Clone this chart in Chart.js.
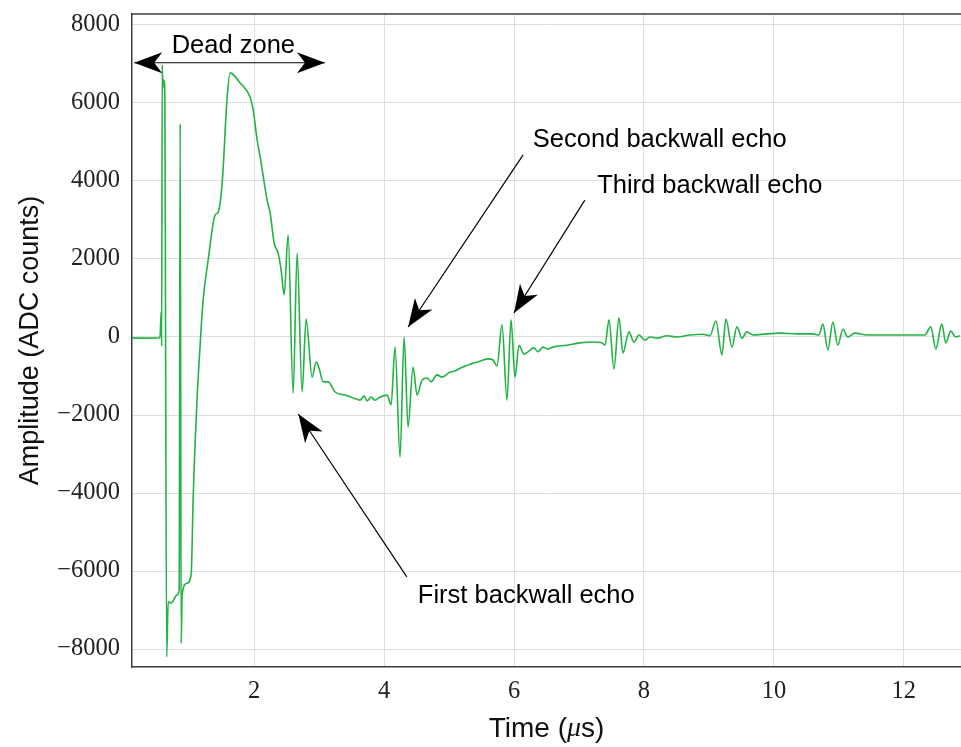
<!DOCTYPE html>
<html>
<head>
<meta charset="utf-8">
<script src="https://cdn.jsdelivr.net/npm/chart.js@4.4.1/dist/chart.umd.min.js"></script>
<style>
  html, body { margin: 0; padding: 0; background: #fff; }
  canvas { display: block; }
</style>
</head>
<body>
<canvas id="chart" width="961" height="747"></canvas>
<script>
// Time axis (microseconds) and ADC amplitude
const timeUs = [
  0.12, 0.32, 0.55, 0.57, 0.577, 0.585, 0.595, 0.603, 0.623, 0.654,
  0.677, 0.723, 0.815, 0.846, 0.862, 0.877, 0.892, 0.969, 1.031, 1.062,
  1.123, 1.169, 1.215, 1.292, 1.40, 1.446, 1.508, 1.585, 1.631, 1.785,
  1.938, 1.985, 2.046, 2.092, 2.20, 2.246, 2.308, 2.369, 2.415, 2.462,
  2.523, 2.60, 2.662, 2.738, 2.80, 2.892, 2.954, 3.00, 3.062, 3.138,
  3.246, 3.40, 3.523, 3.631, 3.692, 3.738, 3.80, 3.862, 3.938, 4.046,
  4.108, 4.169, 4.246, 4.308, 4.369, 4.446, 4.508, 4.585, 4.662, 4.723,
  4.815, 4.892, 5.015, 5.092, 5.169, 5.262, 5.369, 5.446, 5.523, 5.60,
  5.677, 5.738, 5.815, 5.892, 5.954, 6.015, 6.077, 6.154, 6.215, 6.308,
  6.369, 6.446, 6.523, 6.60, 6.815, 7.015, 7.215, 7.354, 7.40, 7.462,
  7.538, 7.615, 7.677, 7.769, 7.846, 7.923, 8.015, 8.092, 8.20, 8.354,
  8.508, 8.708, 8.908, 9.015, 9.108, 9.20, 9.262, 9.354, 9.431, 9.508,
  9.585, 9.677, 9.892, 10.092, 10.354, 10.60, 10.692, 10.754, 10.831, 10.908,
  10.985, 11.062, 11.138, 11.246, 11.431, 11.738, 12.046, 12.323, 12.415, 12.492,
  12.585, 12.646, 12.723, 12.80, 12.862
];
const amplitude = [
  -30, -30, -20, 650, -230, 6970, 6380, 6590, 6460, -8200,
  -6790, -6820, -6610, -6490, 5460, -7850, -6590, -6310, -6080, -4100,
  -1540, -200, 950, 1970, 3130, 3200, 3950, 6150, 6770, 6510,
  6150, 5820, 5050, 4620, 3510, 3180, 2410, 2150, 1720, 1080,
  2620, -1440, 2150, -1410, 460, -1030, -640, -800, -1150, -1150,
  -1410, -1490, -1560, -1620, -1510, -1640, -1540, -1620, -1540, -1490,
  -1740, -260, -3080, 0, -2310, -770, -1490, -1100, -1050, -1150,
  -970, -1030, -900, -870, -800, -740, -670, -640, -590, -560,
  -590, -740, 310, -1620, 440, -1030, -210, -440, -380, -280,
  -380, -260, -310, -260, -210, -150, -130, -150, -210, 440,
  -820, 490, -410, 130, -130, 50, -80, 0, -30, 30,
  0, 50, 70, 30, 410, -460, 460, -260, 260, -30,
  130, 50, 80, 100, 80, 80, 50, 330, -330, 380,
  -210, 200, 0, 100, 50, 50, 50, 50, 260, -310,
  330, -150, 150, 0, 30
];
const xTicks = [2, 4, 6, 8, 10, 12];
const yTicks = [-8000, -6000, -4000, -2000, 0, 2000, 4000, 6000, 8000];

// annotation texts and arrows, in data units
const notes = [
  { text: "Dead zone", x: 1.68, y: 7460, align: "center" },
  { text: "Second backwall echo", x: 6.29, y: 5050, align: "left" },
  { text: "Third backwall echo", x: 7.28, y: 3870, align: "left" },
  { text: "First backwall echo", x: 4.52, y: -6640, align: "left" }
];
const arrows = [
  { from: [0.154, 7030], to: [3.09, 7030], both: true },
  { from: [6.14, 4670], to: [4.37, 256] },
  { from: [7.09, 3510], to: [6.0, 615] },
  { from: [4.35, -6150], to: [2.68, -1975] }
];

function head(ctx, tx, ty, fx, fy) {
  const a = Math.atan2(ty - fy, tx - fx);
  ctx.save();
  ctx.translate(tx, ty);
  ctx.rotate(a);
  ctx.beginPath();
  ctx.moveTo(0, 0);
  ctx.lineTo(-28, -10.5);
  ctx.lineTo(-20, 0);
  ctx.lineTo(-28, 10.5);
  ctx.closePath();
  ctx.fill();
  ctx.restore();
}

const decorations = {
  id: "decorations",
  afterDatasetsDraw(chart) {
    const { ctx, chartArea, scales } = chart;
    const sx = scales.x, sy = scales.y;
    ctx.save();
    // top frame
    ctx.strokeStyle = "#3c3c3c";
    ctx.lineWidth = 1.5;
    ctx.beginPath();
    ctx.moveTo(chartArea.left, chartArea.top);
    ctx.lineTo(chartArea.right, chartArea.top);
    ctx.stroke();

    ctx.strokeStyle = "#000";
    ctx.fillStyle = "#000";
    ctx.lineWidth = 1.2;
    arrows.forEach(a => {
      const x1 = sx.getPixelForValue(a.from[0]), y1 = sy.getPixelForValue(a.from[1]);
      const x2 = sx.getPixelForValue(a.to[0]), y2 = sy.getPixelForValue(a.to[1]);
      ctx.beginPath();
      ctx.moveTo(x1, y1);
      ctx.lineTo(x2, y2);
      ctx.stroke();
      head(ctx, x2, y2, x1, y1);
      if (a.both) head(ctx, x1, y1, x2, y2);
    });

    ctx.font = '25.5px "Liberation Sans", Arial, sans-serif';
    ctx.textBaseline = "middle";
    notes.forEach(n => {
      ctx.textAlign = n.align;
      ctx.fillText(n.text, sx.getPixelForValue(n.x), sy.getPixelForValue(n.y));
    });

    // x axis title with italic mu
    const parts = [
      ["Time (", '28px "Liberation Sans", Arial, sans-serif'],
      ["\u03bc", 'italic 28px "Liberation Serif", serif'],
      ["s)", '28px "Liberation Sans", Arial, sans-serif']
    ];
    let total = 0;
    parts.forEach(p => { ctx.font = p[1]; total += ctx.measureText(p[0]).width; });
    let cx = (chartArea.left + chartArea.right) / 2 - total / 2;
    ctx.textAlign = "left";
    ctx.fillStyle = "#111";
    parts.forEach(p => {
      ctx.font = p[1];
      ctx.fillText(p[0], cx, 729);
      cx += ctx.measureText(p[0]).width;
    });
    ctx.restore();
  }
};

const tickFont = { family: '"Liberation Serif", serif', size: 24.5 };

new Chart(document.getElementById("chart"), {
  type: "line",
  data: {
    datasets: [{
      data: timeUs.map((t, i) => ({ x: t, y: amplitude[i] })),
      borderColor: "#22b245",
      borderWidth: 1.6,
      pointRadius: 0,
      fill: false,
      cubicInterpolationMode: "monotone"
    }]
  },
  options: {
    responsive: false,
    animation: false,
    devicePixelRatio: 1,
    layout: { padding: { top: 0, right: 0, left: 0, bottom: 0 } },
    plugins: { legend: { display: false }, tooltip: { enabled: false } },
    scales: {
      x: {
        type: "linear",
        min: 0.12,
        max: 12.88,
        afterBuildTicks: s => { s.ticks = xTicks.map(v => ({ value: v })); },
        afterFit: s => { s.height = 80; },
        ticks: { font: tickFont, color: "#222", padding: 10, maxRotation: 0 },
        grid: { color: "#dedede", lineWidth: 1, drawTicks: false },
        border: { display: true, color: "#3c3c3c", width: 1.5 }
      },
      y: {
        type: "linear",
        min: -8460,
        max: 8280,
        afterBuildTicks: s => { s.ticks = yTicks.map(v => ({ value: v })); },
        afterFit: s => { s.width = 132; s.paddingTop = 14; },
        ticks: {
          font: tickFont,
          color: "#222",
          padding: 12,
          callback: v => (v < 0 ? "\u2212" + Math.abs(v) : String(v))
        },
        grid: { color: "#dedede", lineWidth: 1, drawTicks: false },
        border: { display: true, color: "#3c3c3c", width: 1.5 },
        title: {
          display: true,
          text: "Amplitude (ADC counts)",
          color: "#111",
          font: { family: '"Liberation Sans", Arial, sans-serif', size: 27 },
          padding: { top: 14, bottom: 0 }
        }
      }
    }
  },
  plugins: [decorations]
});
</script>
</body>
</html>
